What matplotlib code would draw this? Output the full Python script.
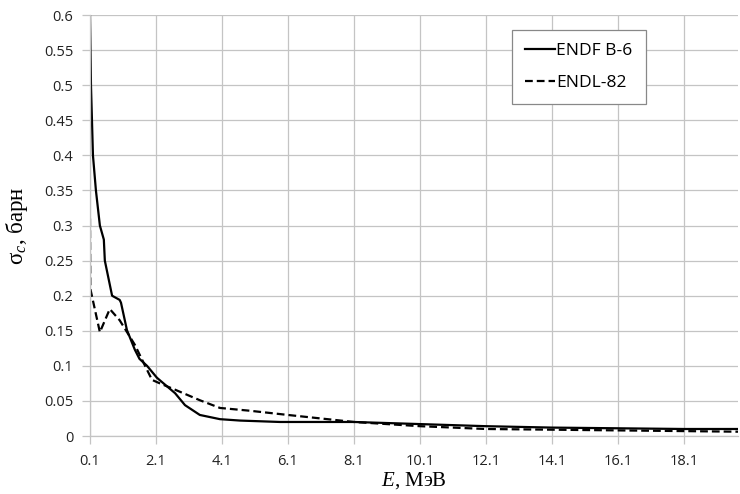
import numpy as np
import matplotlib
matplotlib.use('Agg')
import matplotlib.pyplot as plt

plt.rcParams['mathtext.fontset'] = 'custom'
plt.rcParams['mathtext.rm'] = 'Liberation Serif'
plt.rcParams['mathtext.it'] = 'Liberation Serif:italic'

# ENDF B-6 (solid)
e_endf = [0.1, 0.13, 0.19, 0.28, 0.4, 0.52, 0.55, 0.77, 1.0, 1.04, 1.22, 1.46, 1.6, 1.83,
          2.13, 2.68, 2.98, 3.43, 4.04, 4.65, 5.86, 6.1, 8.1, 10.1, 12.1, 14.1, 16.1, 18.1, 20.0]
s_endf = [0.6, 0.5, 0.4, 0.35, 0.3, 0.28, 0.25, 0.2, 0.194, 0.19, 0.151, 0.123, 0.11, 0.1,
          0.083, 0.061, 0.044, 0.03, 0.024, 0.022, 0.02, 0.02, 0.02, 0.017, 0.014, 0.012, 0.011, 0.01, 0.01]

# ENDL-82 (dashed)
e_endl = [0.1, 0.11, 0.4, 0.7, 1.0, 1.46, 1.77, 1.98, 2.22, 2.68, 3.43, 4.04, 4.95, 6.1,
          8.1, 10.1, 12.1, 14.1, 16.1, 18.1, 20.0]
s_endl = [0.31, 0.21, 0.148, 0.181, 0.165, 0.13, 0.1, 0.08, 0.075, 0.066, 0.051, 0.04, 0.036, 0.03,
          0.02, 0.014, 0.01, 0.009, 0.008, 0.007, 0.006]

xticks = np.arange(0.1, 19.0, 2.0)
xlabels = ['0.1', '2.1', '4.1', '6.1', '8.1', '10.1', '12.1', '14.1', '16.1', '18.1']
yticks = np.arange(0, 0.61, 0.05)
ylabels = ['0', '0.05', '0.1', '0.15', '0.2', '0.25', '0.3', '0.35', '0.4', '0.45', '0.5', '0.55', '0.6']

fig = plt.figure(figsize=(7.4, 4.94), dpi=100)
ax = fig.add_axes([0.1216, 0.1174, 0.876, 0.852])

ax.plot(e_endf, s_endf, color='black', lw=1.6, label='ENDF B-6')
ax.plot(e_endl, s_endl, color='black', lw=1.6, ls=(0, (3.5, 1.8)), label='ENDL-82')

ax.set_xlim(0.1, 19.75)
ax.set_ylim(0, 0.6)
ax.set_xticks(xticks)
ax.set_xticklabels(xlabels)
ax.set_yticks(yticks)
ax.set_yticklabels(ylabels)
ax.grid(True, color='#c4c4c4', lw=0.9)
ax.set_axisbelow(True)
for s in ['top', 'right']:
    ax.spines[s].set_visible(False)
for s in ['left', 'bottom']:
    ax.spines[s].set_color('#c4c4c4')
    ax.spines[s].set_linewidth(0.9)
ax.tick_params(axis='both', length=6, width=0.9, color='#c4c4c4', labelsize=10.5,
               labelcolor='#222222')
ax.tick_params(axis='x', pad=7)
ax.tick_params(axis='y', pad=6)
for lab in ax.get_xticklabels() + ax.get_yticklabels():
    lab.set_family('Open Sans')

ax.set_xlabel(r'$E$, МэВ', family='Liberation Serif', fontsize=15, labelpad=1)
ax.set_ylabel(r'$\mathregular{\sigma}_c$, барн', family='Liberation Serif', fontsize=16.5, labelpad=10)

leg = ax.legend(loc='upper left', bbox_to_anchor=(0.651, 0.964), borderaxespad=0,
                fancybox=False, edgecolor='#888888', framealpha=1, handlelength=1.7,
                handletextpad=0.1, borderpad=0.75, labelspacing=0.9,
                prop={'family': 'Open Sans', 'size': 12.5})
leg.get_frame().set_linewidth(0.9)

fig.savefig('out.png', dpi=100)
